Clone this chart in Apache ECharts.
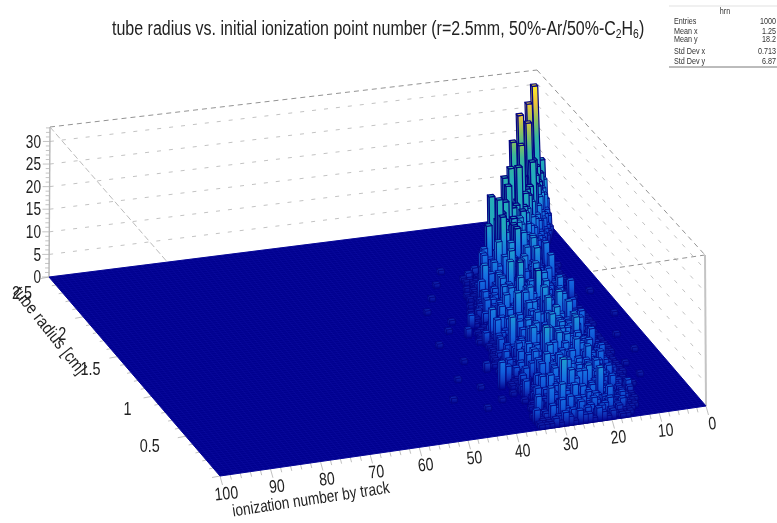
<!DOCTYPE html>
<html><head><meta charset="utf-8">
<style>html,body{margin:0;padding:0;background:#fff}#c{width:777px;height:523px;filter:blur(0.35px)}</style>
<script src="https://cdn.jsdelivr.net/npm/echarts@6/dist/echarts.min.js"></script></head>
<body><div id="c"></div>
<script>
const xTicks=[0,10,20,30,40,50,60,70,80,90,100];
const yTicks=[0.5,1,1.5,2,2.5];
const zTicks=[0,5,10,15,20,25,30];
const xMax=100,yMax=2.5,zMax=33.2;
const titleText='tube radius vs. initial ionization point number (r=2.5mm, 50%-Ar/50%-C';
const statsNames=['Entries','Mean x','Mean y','Std Dev x','Std Dev y'];
const statsValues=['1000','1.25','18.2','0.713','6.87'];
// each row: [radius bin, first ionization bin, counts for consecutive ionization bins...]
const rows=[
[99,0,9,5,2],[98,0,12,0,3,1],[97,0,14,31,9,3],[96,0,10,0,13,4,1],[95,0,6,12,0,28,9,2],
[94,0,3,9,14,0,13,5,1],[93,0,0,8,11,16,0,9,3],[92,1,5,9,13,0,17,27,0,2],[91,1,4,0,11,15,0,16,0,5,1],
[90,1,2,5,9,12,26,0,8,4,1],[89,2,3,6,0,14,0,13,9,5,2],[88,2,2,5,8,18,0,15,0,23,4,1],
[87,3,3,5,0,13,11,0,14,0,4,2],[86,3,2,0,7,10,13,23,0,9,0,2],[85,4,3,6,0,12,0,11,15,0,4,1],
[84,4,1,4,7,0,13,0,12,19,0,3,1],[83,5,3,0,8,10,0,12,0,9,7,2],[82,5,2,4,6,0,11,20,0,12,18,5,2],
[81,6,3,0,7,10,0,12,11,0,9,4,2],[80,6,1,4,0,8,11,0,12,17,0,6,3,1],[79,7,2,5,0,6,10,0,9,14,0,7,3],
[78,7,1,3,6,0,9,7,0,10,12,0,5,2],[77,8,2,0,7,5,0,11,8,0,10,13,0,3,1],[76,8,1,3,0,6,8,0,7,11,0,12,17,0,2],
[75,6,0,2,0,4,5,0,8,0,10,9,0,12,0,8,6,0,2,1],[74,5,1,0,3,0,5,7,0,9,0,11,0,8,17,0,4,1],
[73,6,0,1,2,0,3,1,4,2,0,5,3,1,6,2,0,4,1,0,2,1],[72,6,1,0,0,2,1,3,0,4,2,1,0,5,3,0,2,6,1,0,1],
[71,6,0,1,1,0,4,2,0,3,1,5,0,2,4,1,0,3,2,1,0,1],[70,6,1,0,2,1,0,3,2,0,5,1,3,0,6,2,0,1,3,0,1],
[69,6,0,0,1,2,0,4,1,3,0,2,6,1,0,3,2,4,0,1,1],[68,6,1,1,0,3,1,0,5,2,0,4,1,0,7,2,1,3,0,1,0,0,1],
[67,6,0,1,2,0,2,4,0,1,3,0,5,2,1,0,4,1,2,0,2,1],[66,6,1,0,1,3,0,1,2,5,0,3,1,4,0,2,6,0,1,3,0,1],
[65,6,0,1,0,2,1,3,0,4,2,0,1,6,2,0,3,1,5,0,2,1,0,1],[64,6,0,0,2,1,0,4,1,0,3,5,0,2,1,4,0,3,1,0,7,1,1],
[63,6,1,0,1,0,3,2,0,5,1,2,0,4,3,0,2,6,0,1,3,2,0,1],[62,6,0,1,0,2,1,0,4,1,3,0,2,5,0,3,1,0,4,2,1,0,1],
[61,6,0,0,1,1,3,0,2,0,5,1,3,0,4,2,0,6,1,0,2,3,1],[60,7,1,0,2,0,1,3,1,0,4,2,0,5,1,3,0,2,4,0,1,2,0,1],
[59,7,0,1,0,3,2,0,4,0,2,5,1,0,3,6,0,1,2,3,0,2,1],[58,7,1,0,2,0,1,4,0,2,3,0,5,1,4,0,2,7,0,3,1,0,1],
[57,8,1,0,2,1,0,3,1,0,5,2,0,3,1,6,0,2,4,1,0,2,0,1],[56,8,0,1,0,3,1,4,0,2,1,6,0,3,2,0,5,1,3,0,2,1],
[55,8,1,0,1,0,2,1,5,0,3,0,4,2,0,6,1,3,0,4,1,0,2],[54,8,0,1,2,0,1,3,0,4,1,2,0,5,3,0,2,7,0,3,1,1,0,1],
[53,8,0,0,1,3,0,2,4,0,1,5,0,3,6,1,0,2,4,0,3,1,0,1],[52,8,1,0,2,0,1,0,3,5,0,2,1,7,0,4,2,0,5,1,0,2,1],
[51,8,0,1,0,2,3,0,1,4,2,0,6,1,3,0,4,0,2,5,1,0,3,0,1],[50,8,1,0,1,0,2,4,0,3,1,5,0,2,7,0,3,4,0,1,2,0,1],
[49,8,0,1,2,0,1,3,0,5,2,0,4,1,3,0,6,2,0,4,1,3,0,1],[48,8,1,0,0,2,3,0,4,1,0,6,2,0,5,1,3,0,2,4,0,1,2,0,1],
[47,8,0,0,1,2,0,1,5,0,3,2,0,4,6,0,1,3,0,5,2,0,3,1,0,1],[46,8,1,1,0,3,0,2,1,4,0,6,1,3,0,5,2,0,4,0,3,1,0,1],
[45,8,0,1,2,0,1,0,3,5,1,0,4,2,0,7,1,3,0,6,2,0,1,3,0,1],[44,8,1,0,1,0,2,4,0,1,3,6,0,2,5,0,3,1,4,0,2,0,3,1],
[43,9,0,1,2,0,3,1,0,5,2,0,4,1,6,0,3,2,0,5,1,0,2,1,0,1],[42,9,1,0,1,3,0,2,4,0,1,7,0,3,1,5,0,2,4,0,3,1,0,1],
[41,9,0,2,0,1,4,0,3,1,5,0,2,6,1,0,4,3,0,2,1,3,0,1],[40,9,1,0,2,0,1,3,0,6,2,0,4,1,7,0,3,5,0,1,2,0,3,0,1],
[39,9,0,1,0,3,1,0,5,2,0,3,7,1,0,4,2,0,6,1,3,0,2,1],[38,9,1,0,2,1,0,4,1,0,6,2,0,5,1,3,0,4,2,0,3,1,0,1,1],
[37,9,0,1,0,2,3,0,1,5,0,3,6,0,2,4,0,7,1,3,0,2,1,0,1],[36,9,1,0,1,0,2,5,0,3,1,7,0,2,4,1,0,5,2,0,3,0,1,2],
[35,9,0,1,2,0,1,3,0,6,2,0,5,1,0,3,6,0,2,4,1,0,3,0,1,1],[34,9,1,0,0,3,1,0,4,2,0,7,1,3,0,5,1,0,4,2,0,3,1,0,2,1],
[33,9,0,1,2,0,2,1,5,0,3,1,6,0,2,4,0,3,7,0,1,3,0,2,0,1],[32,9,1,0,1,0,3,0,2,6,0,4,2,0,5,1,0,6,2,0,4,1,0,2,1],
[31,9,0,0,2,1,0,4,1,0,5,2,0,7,1,3,0,4,2,0,3,5,0,1,2,0,1],[30,9,1,1,0,2,0,3,1,6,0,3,1,4,0,2,7,0,3,1,4,0,2,1,0,1],
[29,9,0,1,0,3,1,0,5,0,2,4,0,6,2,0,3,1,5,0,3,1,0,2,0,1],[28,10,1,0,2,0,1,4,0,3,1,7,0,2,5,0,1,4,0,6,1,2,0,3,0,1],
[27,10,0,1,0,3,0,2,5,1,0,4,2,0,6,1,3,0,4,2,0,3,1,0,2,1],[26,10,1,0,2,0,1,3,0,4,2,0,6,1,3,0,5,2,0,4,1,3,0,2,0,1],
[25,10,0,1,0,2,3,0,1,6,0,3,1,5,0,2,4,0,3,1,5,0,2,1,0,1],[24,10,1,0,1,0,2,4,0,3,1,0,5,2,0,4,1,3,0,6,1,2,0,3,1],
[23,10,0,1,2,0,1,3,0,5,1,3,0,4,2,0,5,1,0,3,4,0,2,1,0,1],[22,10,1,0,0,3,1,0,4,1,2,0,6,0,3,1,4,0,2,5,0,1,3,0,1],
[21,10,0,1,1,0,2,3,0,5,1,0,3,4,0,2,1,5,0,3,1,0,4,0,1,1],[20,10,1,0,2,1,0,4,1,0,3,5,0,2,4,0,1,3,0,5,2,0,1,3,0,1],
[19,11,1,0,2,0,3,1,0,5,2,0,4,1,3,0,5,2,0,3,1,0,2,1],[18,11,0,1,0,3,1,4,0,2,1,6,0,3,2,0,4,1,3,0,2,0,1,1],
[17,11,1,0,2,0,1,3,0,5,0,2,4,0,5,1,0,3,2,0,4,1,0,2,0,1],[16,11,0,1,0,2,3,0,1,4,1,0,3,6,0,2,4,0,3,1,0,2,1,1],
[15,11,1,0,1,0,2,4,0,3,1,5,0,2,3,0,4,1,0,3,2,0,1,1],[14,11,0,1,2,0,1,3,0,2,4,0,5,1,3,0,2,4,0,1,3,0,1],
[13,11,1,0,0,2,1,0,4,1,3,0,2,5,0,3,1,0,4,2,0,1,2,0,1],[12,11,0,2,1,0,3,1,0,4,2,0,6,1,3,0,2,3,0,1,3,0,1],
[11,12,1,0,2,0,1,3,0,4,1,2,0,5,0,3,1,4,0,2,1,0,1],[10,12,2,1,0,1,2,0,3,1,4,0,2,3,0,4,1,0,3,0,2,1],
[9,12,1,0,2,0,2,1,3,0,4,1,3,0,2,4,0,1,3,1,0,2,0,1],[8,12,0,1,1,2,0,3,1,0,2,4,0,3,1,0,4,2,0,2,1,0,1],
[7,12,1,0,2,0,1,3,0,2,3,0,4,1,3,0,2,3,0,1,2,1],[6,13,1,1,0,2,1,3,0,3,1,4,0,2,3,1,0,3,1,2,0,1],
[5,13,0,1,2,0,2,1,3,0,4,1,2,3,0,3,1,4,0,2,1,1,0,1],[4,13,1,0,1,2,0,3,1,2,3,0,3,1,4,2,0,3,1,2,0,2,1],
[3,14,1,1,0,2,1,3,2,0,3,2,1,3,0,4,2,1,3,0,2,1,1],[2,14,0,1,1,2,0,2,3,1,2,3,0,3,2,1,3,2,0,2,1,1],
[1,15,1,0,1,1,2,1,3,2,0,3,2,1,3,2,1,2,1,1,0,1],[0,15,0,1,1,0,2,1,2,3,1,2,2,3,1,2,3,1,2,1,1,1]
];
// tall bins: [ionization bin, radius bin, count]
const tallBins=[[19,75,11],[19,69,10],[16,70,9],[14,72,11],[17,72,14],[12,77,10],[7,83,8],[20,59,10],[19,56,11],[24,63,8],[17,51,11],[17,47,9],[23,46,9],[29,41,6],[28,35,9],[18,37,9],[16,31,9],[25,31,8],[24,26,10],[35,21,6],[26,10,10],[20,12,7],[19,8,8],[28,5,7],[31,51,3],[29,44,7],[19,50,8],[20,53,9],[22,53,7],[21,42,5],[17,33,6],[25,37,5],[21,40,7],[24,24,7],[30,24,4],[33,5,5],[27,3,5],[24,4,4],[21,7,5],[12,11,3],[17,8,3],[21,15,6],
[10,74,8],[13,75,9],[16,73,10],[8,72,7],[11,71,9],[13,69,8],[21,73,6],
[9,66,7],[12,66,9],[15,65,8],[18,64,10],[21,66,7],[11,62,6],[14,61,8],[17,61,9],[22,60,7],[25,62,5],
[8,57,5],[11,55,7],[14,56,8],[17,55,7],[22,56,6],[26,57,5],[12,52,6],[15,52,8],[24,50,7],[27,53,5],[10,50,4],
[13,47,7],[15,44,9],[20,45,7],[26,47,6],[11,42,5],[14,41,8],[18,42,9],[24,42,6],[27,44,5],[31,42,3],
[13,37,6],[15,35,8],[20,34,9],[23,35,7],[30,36,4],[12,33,5],[19,31,7],[22,30,8],[27,32,5],[31,30,4],
[12,27,4],[15,26,6],[18,25,7],[21,27,8],[27,25,6],[29,27,5],[14,22,5],[17,21,7],[20,22,6],[23,21,6],[26,20,7],[33,23,4],
[14,17,4],[17,16,6],[20,17,5],[23,16,7],[26,15,6],[29,14,5],[32,15,4],[15,12,4],[18,13,5],[22,12,6],[24,11,7],[28,12,6],[31,11,4],
[15,6,3],[18,5,5],[23,7,5],[25,6,6],[30,6,6],[32,7,3],[16,3,3],[19,2,4],[22,3,4],[25,2,4],[29,2,5],[31,2,4],[34,3,3]];
// isolated low bins in the tails
const tailBins=[[34,54,1],[34,66,1],[40,44,1],[46,18,1],[42,27,1],[37,60,1],[31,72,1],[38,35,1],[36,50,1],[41,12,1],[39,22,1],[28,78,1],[33,47,2],[35,30,2],[37,15,1],[3,60,1],[2,48,1],[5,38,1],[8,24,1],[10,14,1],[4,30,1],[7,18,1]];
const palette=[[0,[0,0,140]],[1,[14,34,170]],[3,[15,85,215]],[6,[22,115,226]],[9,[28,150,215]],[12,[35,170,185]],[16,[35,172,188]],[20,[55,182,155]],[23,[130,190,100]],[27,[235,195,60]],[31,[252,235,40]]];
const xBinDraw=1.2,yBinDraw=1.05;
function colorAt(z){
  for(let i=1;i<palette.length;i++){
    if(z<=palette[i][0]){
      const a=palette[i-1],b=palette[i],t=(z-a[0])/(b[0]-a[0]);
      return 'rgb('+a[1].map((c,k)=>Math.round(c+(b[1][k]-c)*t)).join(',')+')';
    }
  }
  return 'rgb(252,235,40)';
}
function homography(A,B,C,D){
  const sx=A[0]-B[0]+C[0]-D[0],sy=A[1]-B[1]+C[1]-D[1],dx1=B[0]-C[0],dy1=B[1]-C[1],dx2=D[0]-C[0],dy2=D[1]-C[1];
  const den=dx1*dy2-dx2*dy1,g=(sx*dy2-sy*dx2)/den,h=(dx1*sy-dy1*sx)/den;
  const a=B[0]-A[0]+g*B[0],b=D[0]-A[0]+h*D[0],d=B[1]-A[1]+g*B[1],e=D[1]-A[1]+h*D[1];
  return (u,v)=>{const w=g*u+h*v+1;return [(a*u+b*v+A[0])/w,(d*u+e*v+A[1])/w];};
}
const floorH=homography([706,406],[220,476],[49,277],[542,215]);
const topH=homography([705,255],[222,325],[50,127],[537,70]);
let G=null;
function project(api,x,y,z){
  const c=api.coord([x,y]);
  const u=(c[0]-G.x)/G.width, v=(G.y+G.height-c[1])/G.height;
  const p=floorH(u,v),q=topH(u,v),t=z/zMax;
  return [p[0]+(q[0]-p[0])*t,p[1]+(q[1]-p[1])*t];
}
const cellMap={};
rows.forEach(r=>{for(let i=2;i<r.length;i++){if(r[i]>0)cellMap[(r[1]+i-2)+'_'+r[0]]=[r[1]+i-2,r[0],r[i]];}});
tallBins.concat(tailBins).forEach(b=>{const k=b[0]+'_'+b[1];if(!cellMap[k]||cellMap[k][2]<b[2])cellMap[k]=b;});
const bars=Object.values(cellMap);
bars.sort((a,b)=>b[1]-a[1]||a[0]-b[0]);
const line=(a,b,style)=>({type:'line',silent:true,shape:{x1:a[0],y1:a[1],x2:b[0],y2:b[1]},style:Object.assign({fill:null},style)});
const txt=(s,x,y,o)=>Object.assign({type:'text',x:x,y:y,silent:true,style:{text:s,x:0,y:0,fill:o.fill||'#222',font:(o.size||18)+'px "Liberation Sans"',align:o.align||'center',verticalAlign:'middle'}},o.scale?{scaleX:o.scale}:{},o.rot?{rotation:o.rot}:{});
function renderBack(params,api){
  G=params.coordSys;
  const P=(x,y,z)=>project(api,x,y,z),ch=[];
  const dash={stroke:'#a8a8a8',lineWidth:0.7,lineDash:[4,8]};
  zTicks.slice(1).forEach(z=>{
    ch.push(line(P(100,2.5,z),P(0,2.5,z),dash));
    ch.push(line(P(0,2.5,z),P(0,0,z),dash));
  });
  const edge={stroke:'#777',lineWidth:0.8,lineDash:[5,4]};
  ch.push(line(P(100,2.5,zMax),P(0,2.5,zMax),edge));
  ch.push(line(P(0,2.5,zMax),P(0,0,zMax),edge));
  ch.push(line(P(100,2.5,zMax),P(100,0,zMax),{stroke:'#aaa',lineWidth:0.8,lineDash:[6,3]}));
  ch.push(line(P(0,0,zMax),P(100,0,zMax),edge));
  ch.push(line(P(100,2.5,0),P(100,2.5,zMax),{stroke:'#b5b5b5',lineWidth:1.4}));
  ch.push(line(P(0,0,0),P(0,0,zMax),{stroke:'#c4c4c4',lineWidth:2}));
  for(let z=0;z<=zMax;z+=1){
    const p=P(100,2.5,z),maj=z%5===0;
    ch.push(line(p,[p[0]-(maj?7:4),p[1]],{stroke:'#b5b5b5',lineWidth:0.8}));
  }
  zTicks.forEach(z=>{const p=P(100,2.5,z);ch.push(txt(String(z),41,p[1]+1,{size:19,scale:0.72,align:'right'}));});
  for(let x=0;x<=100;x+=2){
    const p=P(x,0,0),maj=x%10===0;
    ch.push(line(p,[p[0]+(maj?2.5:1.3),p[1]+(maj?9:5)],{stroke:'#b0b0b0',lineWidth:0.8}));
  }
  xTicks.forEach(x=>{const p=P(x,0,0);ch.push(txt(String(x),p[0]+6.5,p[1]+18.5,{size:18,scale:0.78,rot:0.1}));});
  for(let y=0;y<=2.5001;y+=0.1){
    const p=P(100,y,0),maj=Math.round(y*10)%5===0;
    ch.push(line(p,[p[0]-(maj?8:4),p[1]+(maj?1.5:0.8)],{stroke:'#b0b0b0',lineWidth:0.8}));
  }
  const yOff={0.5:[-36,11],1:[-24,14],1.5:[-27,13],2:[-21,18],2.5:[-27,17]};
  yTicks.forEach(y=>{const p=P(100,y,0);ch.push(txt(String(y),p[0]+yOff[y][0],p[1]+yOff[y][1],{size:18,scale:0.8}));});
  ch.push(txt('tube radius [cm]',49,331,{size:17,scale:0.88,rot:-0.9}));
  ch.push(txt('ionization number by track',311,500,{size:17,scale:0.8,rot:0.15}));
  ch.push({type:'polygon',silent:true,shape:{points:[P(0,0,0),P(100,0,0),P(100,2.5,0),P(0,2.5,0)]},style:{fill:'rgb(0,0,142)',stroke:'rgb(0,0,142)',lineWidth:1}});
  const grid={stroke:'rgba(40,40,200,0.32)',lineWidth:0.5};
  for(let i=0;i<=100;i++){
    ch.push(line(P(i,0,0),P(i,2.5,0),grid));
    ch.push(line(P(0,i*0.025,0),P(100,i*0.025,0),grid));
  }
  return {type:'group',children:ch};
}
function renderBar(params,api){
  G=params.coordSys;
  const ix=api.value(0),iy=api.value(1),h=api.value(2);
  const x0=ix,x1=ix+xBinDraw,y0=iy*0.025,y1=(iy+yBinDraw)*0.025;
  const b=(x,y)=>project(api,x,y,0),t=(x,y)=>project(api,x,y,h);
  const stops=[];
  const n=Math.max(2,Math.min(8,Math.ceil(h/3)+1));
  for(let i=0;i<=n;i++){stops.push({offset:i/n,color:colorAt(h*(1-i/n))});}
  const by=b(x1,y0)[1],ty=t(x1,y0)[1];
  const grad=new echarts.graphic.LinearGradient(0,ty,0,by,stops,true);
  const st={stroke:'rgb(4,4,130)',lineWidth:h>10?1.2:0.8,lineJoin:'round'};
  return {type:'group',silent:true,children:[
    {type:'polygon',shape:{points:[b(x1,y1),b(x1,y0),t(x1,y0),t(x1,y1)]},style:Object.assign({fill:grad},st)},
    {type:'polygon',shape:{points:[b(x1,y0),b(x0,y0),t(x0,y0),t(x1,y0)]},style:Object.assign({fill:grad},st)},
    {type:'polygon',shape:{points:[t(x0,y0),t(x1,y0),t(x1,y1),t(x0,y1)]},style:Object.assign({fill:colorAt(h)},st)}
  ]};
}
const chart=echarts.init(document.getElementById('c'),null,{renderer:'canvas',width:777,height:523});
const statsG=[];
statsG.push({type:'line',silent:true,shape:{x1:669,y1:6,x2:777,y2:6},style:{stroke:'#ccc',lineWidth:0.6}});
statsG.push({type:'line',silent:true,shape:{x1:669,y1:67,x2:777,y2:67},style:{stroke:'#555',lineWidth:0.8}});
statsG.push({type:'text',x:725,y:12,scaleX:0.8,silent:true,style:{text:'hrn',font:'9px "Liberation Sans"',fill:'#333',align:'center',verticalAlign:'middle'}});
const statY=[22,32,40,52,62];
statsNames.forEach((s,i)=>{
  statsG.push({type:'text',x:674,y:statY[i],scaleX:0.8,silent:true,style:{text:s,font:'9px "Liberation Sans"',fill:'#333',align:'left',verticalAlign:'middle'}});
  statsG.push({type:'text',x:776,y:statY[i],scaleX:0.8,silent:true,style:{text:statsValues[i],font:'9px "Liberation Sans"',fill:'#333',align:'right',verticalAlign:'middle'}});
});
chart.setOption({
  animation:false,
  backgroundColor:'#fff',
  grid:{left:0,right:0,top:0,bottom:0,containLabel:false},
  xAxis:{type:'value',min:0,max:xMax,show:false},
  yAxis:{type:'value',min:0,max:yMax,show:false},
  graphic:{elements:[
    {type:'text',x:112,y:29,scaleX:0.8,silent:true,style:{text:titleText+'{s|2}H{s|6})',font:'20px "Liberation Sans"',fill:'#222',verticalAlign:'middle',rich:{s:{font:'13px "Liberation Sans"',fill:'#222',verticalAlign:'bottom',padding:[10,0,0,0]}}}},
    {type:'group',children:statsG}
  ]},
  series:[
    {type:'custom',coordinateSystem:'cartesian2d',clip:false,silent:true,progressive:0,renderItem:renderBack,data:[[0,0]],encode:{x:0,y:1},z:1},
    {type:'custom',coordinateSystem:'cartesian2d',clip:false,silent:true,progressive:0,renderItem:renderBar,data:bars,dimensions:['ionization','radiusBin','count'],encode:{x:-1,y:-1},z:2}
  ]
});
</script></body></html>
